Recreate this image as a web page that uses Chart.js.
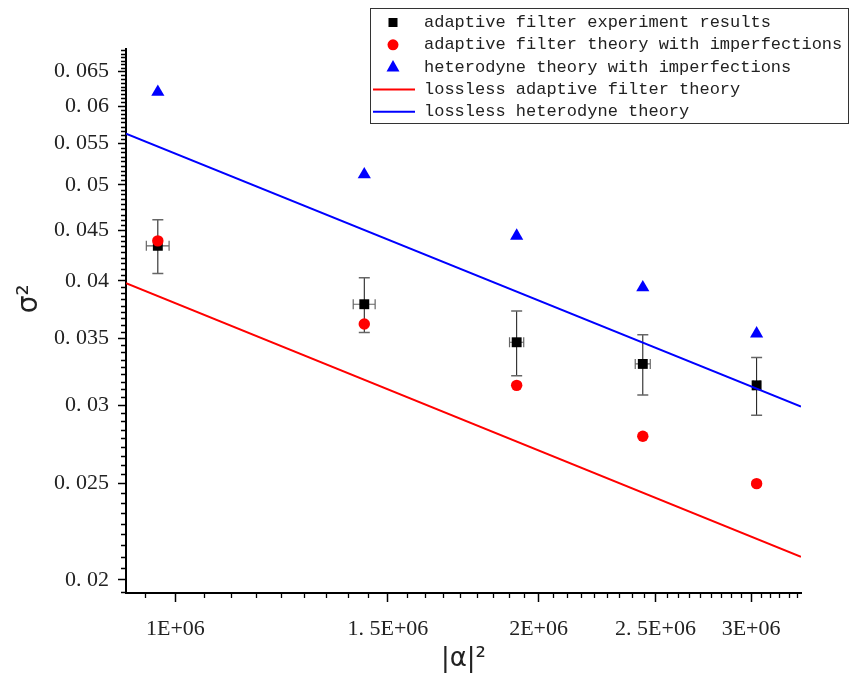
<!DOCTYPE html>
<html>
<head>
<meta charset="utf-8">
<script src="https://cdn.jsdelivr.net/npm/chart.js@4.4.1/dist/chart.umd.min.js"></script>
<style>
  body { margin: 0; background: #fff; }
  #wrap { width: 849px; height: 677px; }
</style>
</head>
<body>
<div id="wrap"><canvas id="chart" width="849" height="677"></canvas></div>
<script>
// --- Data ---
const alphaSq = [0.967e6, 1.434e6, 1.918e6, 2.440e6, 3.032e6];
const expSigma = [0.0434, 0.0379, 0.0347, 0.0330, 0.0314];
const expSigmaErr = [0.0027, 0.0024, 0.0026, 0.0023, 0.0021];
const expAlphaErr = [0.021e6, 0.030e6, 0.026e6, 0.035e6, 0.020e6];
const adaptiveImperf = [0.0439, 0.0362, 0.0314, 0.0279, 0.0250];
const heterodyneImperf = [0.0620, 0.0512, 0.0444, 0.0394, 0.0354];
const lineX = [0.91e6, 3.3e6];
const losslessAdaptive = [0.0398, 0.0211];
const losslessHeterodyne = [0.0563, 0.0299];
const xTicks = [1e6, 1.5e6, 2e6, 2.5e6, 3e6];
const yTicks = [0.02, 0.025, 0.03, 0.035, 0.04, 0.045, 0.05, 0.055, 0.06, 0.065];

const pts = (xs, ys) => xs.map((x, i) => ({ x: x, y: ys[i] }));

// --- Helpers ---
function minorValues(majors, min, max) {
  // 8 minor ticks between majors, also past the ends
  const step = (majors[1] - majors[0]) / 9;
  const out = [];
  for (let v = majors[0] - step; v > min; v -= step) out.push(v);
  for (let i = 0; i < majors.length; i++) {
    for (let k = 1; k < 9; k++) {
      const v = majors[i] + k * step;
      if (v < max) out.push(v);
    }
  }
  return out;
}

// --- Plugins ---
const errorBars = {
  id: 'errorBars',
  beforeDatasetsDraw(chart) {
    const { ctx, scales: { x, y } } = chart;
    ctx.save();
    alphaSq.forEach((a, i) => {
      const px = x.getPixelForValue(a);
      const py = y.getPixelForValue(expSigma[i]);
      const top = y.getPixelForValue(expSigma[i] + expSigmaErr[i]);
      const bot = y.getPixelForValue(expSigma[i] - expSigmaErr[i]);
      const left = x.getPixelForValue(a - expAlphaErr[i]);
      const right = x.getPixelForValue(a + expAlphaErr[i]);
      // horizontal
      ctx.strokeStyle = '#666';
      ctx.lineWidth = 1.2;
      ctx.beginPath();
      ctx.moveTo(left, py); ctx.lineTo(right, py);
      ctx.moveTo(left, py - 5); ctx.lineTo(left, py + 5);
      ctx.moveTo(right, py - 5); ctx.lineTo(right, py + 5);
      ctx.stroke();
      // vertical
      ctx.strokeStyle = '#111';
      ctx.lineWidth = 1;
      ctx.beginPath();
      ctx.moveTo(px, top); ctx.lineTo(px, bot);
      ctx.stroke();
      ctx.strokeStyle = '#666';
      ctx.lineWidth = 1.5;
      ctx.beginPath();
      ctx.moveTo(px - 5.5, top); ctx.lineTo(px + 5.5, top);
      ctx.moveTo(px - 5.5, bot); ctx.lineTo(px + 5.5, bot);
      ctx.stroke();
    });
    ctx.restore();
  }
};

const minorTicks = {
  id: 'minorTicks',
  afterDraw(chart) {
    const { ctx, scales: { x, y }, chartArea } = chart;
    ctx.save();
    ctx.strokeStyle = '#000';
    ctx.lineWidth = 1.3;
    ctx.beginPath();
    minorValues(xTicks, x.min, x.max).forEach(v => {
      const px = Math.round(x.getPixelForValue(v)) + 0.5;
      ctx.moveTo(px, chartArea.bottom); ctx.lineTo(px, chartArea.bottom + 5);
    });
    minorValues(yTicks, y.min, y.max).forEach(v => {
      const py = Math.round(y.getPixelForValue(v)) + 0.5;
      ctx.moveTo(chartArea.left - 5, py); ctx.lineTo(chartArea.left, py);
    });
    ctx.stroke();
    ctx.restore();
  }
};

const boxLegend = {
  id: 'boxLegend',
  afterDraw(chart) {
    const ctx = chart.ctx;
    ctx.save();
    ctx.strokeStyle = '#333';
    ctx.lineWidth = 1;
    ctx.strokeRect(370.5, 8.5, 478, 115);
    ctx.font = '17px "Liberation Mono", monospace';
    ctx.textBaseline = 'middle';
    chart.data.datasets.forEach((ds, i) => {
      const yy = 22.5 + i * 22.3;
      const cx = 393;
      ctx.fillStyle = ds.backgroundColor;
      if (ds.showLine) {
        ctx.strokeStyle = ds.borderColor;
        ctx.lineWidth = 2;
        ctx.beginPath();
        ctx.moveTo(373, yy); ctx.lineTo(415, yy);
        ctx.stroke();
      } else if (ds.pointStyle === 'rect') {
        ctx.fillRect(cx - 4.5, yy - 4.5, 9, 9);
      } else if (ds.pointStyle === 'circle') {
        ctx.beginPath();
        ctx.arc(cx, yy, 5.5, 0, Math.PI * 2);
        ctx.fill();
      } else {
        ctx.beginPath();
        ctx.moveTo(cx, yy - 7);
        ctx.lineTo(cx + 6.5, yy + 4.5);
        ctx.lineTo(cx - 6.5, yy + 4.5);
        ctx.closePath();
        ctx.fill();
      }
      ctx.fillStyle = '#222';
      ctx.fillText(ds.label, 424, yy);
    });
    ctx.restore();
  }
};

// --- Chart ---
const tickFont = { family: '"Liberation Serif", "DejaVu Serif", serif', size: 22 };

new Chart(document.getElementById('chart'), {
  type: 'scatter',
  data: {
    datasets: [
      {
        label: 'adaptive filter experiment results',
        data: pts(alphaSq, expSigma),
        pointStyle: 'rect', pointRadius: 7, borderWidth: 0,
        backgroundColor: '#000', borderColor: '#000', order: 3
      },
      {
        label: 'adaptive filter theory with imperfections',
        data: pts(alphaSq, adaptiveImperf),
        pointStyle: 'circle', pointRadius: 5.7, borderWidth: 0,
        backgroundColor: '#ff0000', borderColor: '#ff0000', order: 1
      },
      {
        label: 'heterodyne theory with imperfections',
        data: pts(alphaSq, heterodyneImperf),
        pointStyle: 'triangle', pointRadius: 7.6, borderWidth: 0,
        backgroundColor: '#0000ff', borderColor: '#0000ff', order: 2
      },
      {
        label: 'lossless adaptive filter theory',
        data: pts(lineX, losslessAdaptive),
        showLine: true, pointRadius: 0, borderWidth: 2,
        borderColor: '#ff0000', backgroundColor: '#ff0000', order: 0
      },
      {
        label: 'lossless heterodyne theory',
        data: pts(lineX, losslessHeterodyne),
        showLine: true, pointRadius: 0, borderWidth: 2,
        borderColor: '#0000ff', backgroundColor: '#0000ff', order: 0
      }
    ]
  },
  options: {
    responsive: false,
    animation: false,
    layout: { padding: { top: 49, right: 48, left: 0, bottom: 0 } },
    plugins: {
      legend: { display: false },
      tooltip: { enabled: false }
    },
    scales: {
      x: {
        type: 'logarithmic',
        min: 0.91e6, max: 3.3e6,
        afterBuildTicks: s => { s.ticks = xTicks.map(v => ({ value: v })); },
        afterFit: s => { s.height = 84; },
        grid: { drawOnChartArea: false, drawTicks: true, tickLength: 9, tickWidth: 1.5, tickColor: '#000' },
        border: { color: '#000', width: 2 },
        ticks: {
          autoSkip: false, maxRotation: 0, padding: 14, color: '#222', font: tickFont,
          callback: v => {
            const m = (v / 1e6).toString().replace('.', '. ');
            return m + 'E+06';
          }
        },
        title: {
          display: true, text: '|α|²', color: '#222',
          font: { family: '"DejaVu Sans", sans-serif', size: 26 },
          padding: { top: 0, bottom: 2 }
        }
      },
      y: {
        type: 'logarithmic',
        min: 0.0194, max: 0.0685,
        afterBuildTicks: s => { s.ticks = yTicks.map(v => ({ value: v })); },
        afterFit: s => { s.width = 126; },
        grid: { drawOnChartArea: false, drawTicks: true, tickLength: 8, tickWidth: 1.5, tickColor: '#000' },
        border: { color: '#000', width: 2 },
        ticks: {
          autoSkip: false, padding: 9, color: '#222', font: tickFont,
          callback: v => parseFloat(v.toFixed(3)).toString().replace('.', '. ')
        },
        title: {
          display: true, text: '     σ²', color: '#222',
          font: { family: '"DejaVu Sans", sans-serif', size: 28 },
          padding: { top: 13 }
        }
      }
    }
  },
  plugins: [errorBars, minorTicks, boxLegend]
});
</script>
</body>
</html>
